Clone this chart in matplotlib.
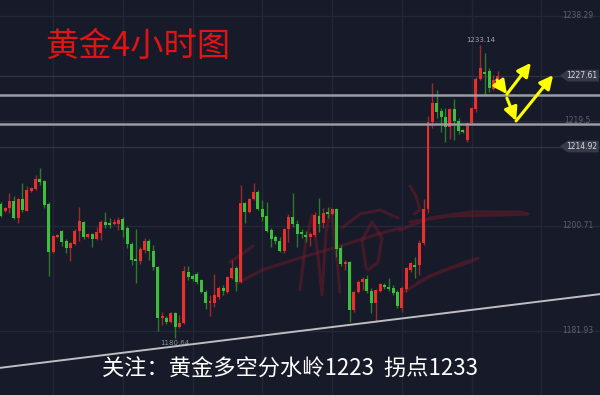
#!/usr/bin/env python
# -*- coding: utf-8 -*-
"""
Gold 4h candlestick chart (dark theme), red = up, green = down.
"""
import matplotlib

matplotlib.use("Agg")
import matplotlib.pyplot as plt
import matplotlib.transforms as mtransforms
from matplotlib.patches import Polygon

plt.rcParams["font.family"] = ["Noto Sans CJK SC", "DejaVu Sans"]

# --- Data --------------------------------------------------------------
opens = [
    1204.6, 1203.4, 1203.9, 1205.2, 1202.1, 1205.5, 1203.4, 1207.0, 1207.3, 1209.1,
    1208.8, 1204.6, 1196.1, 1198.7, 1199.8, 1198.0, 1196.8, 1197.5, 1199.8, 1201.4,
    1198.7, 1199.3, 1198.4, 1199.5, 1201.4, 1201.2, 1201.1, 1201.1, 1202.0, 1200.4,
    1197.5, 1194.8, 1194.4, 1196.4, 1198.0, 1196.2, 1193.4, 1184.2, 1184.2, 1183.5,
    1185.1, 1182.6, 1183.4, 1192.5, 1191.8, 1192.1, 1191.0, 1188.9, 1186.9, 1186.9,
    1188.0, 1189.6, 1188.9, 1191.4, 1193.2, 1190.7, 1204.8, 1203.2, 1205.5, 1206.8,
    1203.8, 1202.5, 1200.0, 1198.7, 1198.0, 1196.2, 1200.2, 1202.3, 1201.1, 1199.4,
    1199.1, 1198.7, 1199.1, 1202.5, 1201.2, 1203.2, 1202.9, 1203.8, 1196.8, 1193.9,
    1194.3, 1185.7, 1188.9, 1190.7, 1191.2, 1189.1, 1186.9, 1189.1, 1190.2, 1189.8,
    1189.6, 1188.9, 1186.0, 1189.4, 1192.8, 1193.7, 1193.7, 1197.7, 1203.8, 1219.3,
    1222.7, 1221.3, 1220.2, 1218.4, 1221.6, 1219.5, 1217.9, 1216.1, 1219.1, 1221.6,
    1227.0, 1228.3, 1228.4, 1225.2, 1226.5,
]
highs = [
    1205.0, 1204.1, 1206.6, 1206.1, 1205.7, 1208.4, 1207.9, 1207.7, 1209.8, 1211.1,
    1208.9, 1205.0, 1199.1, 1199.3, 1199.9, 1198.4, 1197.8, 1200.2, 1204.1, 1201.6,
    1199.5, 1199.5, 1200.5, 1201.8, 1203.2, 1202.1, 1202.0, 1202.3, 1202.3, 1200.7,
    1197.8, 1200.2, 1197.0, 1198.6, 1198.4, 1197.3, 1193.6, 1185.3, 1184.6, 1185.3,
    1185.3, 1184.8, 1193.6, 1193.6, 1192.1, 1192.5, 1191.2, 1189.3, 1188.4, 1192.1,
    1190.0, 1190.2, 1191.8, 1194.6, 1193.6, 1208.0, 1205.0, 1205.7, 1208.4, 1207.2,
    1205.4, 1205.0, 1200.4, 1199.1, 1198.7, 1200.4, 1202.9, 1206.6, 1201.8, 1200.2,
    1199.8, 1199.6, 1203.2, 1205.7, 1203.9, 1204.1, 1203.9, 1203.9, 1197.3, 1194.6,
    1194.4, 1189.1, 1191.0, 1191.6, 1191.9, 1189.6, 1189.4, 1190.5, 1190.5, 1191.4,
    1190.2, 1189.3, 1190.0, 1193.4, 1194.3, 1195.2, 1198.2, 1205.5, 1220.4, 1226.3,
    1225.0, 1221.8, 1221.8, 1221.8, 1223.4, 1220.0, 1218.1, 1219.3, 1222.0, 1227.4,
    1233.14, 1231.7, 1229.0, 1227.7, 1228.4,
]
lows = [
    1202.3, 1203.2, 1203.0, 1202.0, 1201.2, 1203.2, 1203.3, 1206.8, 1207.1, 1208.0,
    1203.9, 1191.8, 1195.9, 1198.6, 1197.1, 1195.9, 1194.4, 1197.3, 1198.0, 1198.4,
    1198.6, 1197.0, 1198.2, 1198.2, 1200.4, 1200.4, 1200.9, 1200.0, 1198.7, 1196.8,
    1193.7, 1190.5, 1193.9, 1195.9, 1194.6, 1192.8, 1181.9, 1183.0, 1183.2, 1183.4,
    1180.64, 1182.5, 1183.2, 1191.0, 1190.9, 1190.3, 1188.7, 1185.9, 1184.6, 1186.2,
    1187.6, 1188.4, 1188.7, 1191.2, 1189.1, 1190.5, 1201.2, 1203.0, 1205.4, 1203.6,
    1201.6, 1199.6, 1197.0, 1197.5, 1196.0, 1195.9, 1197.8, 1200.5, 1197.0, 1198.6,
    1197.8, 1197.1, 1198.7, 1199.6, 1200.4, 1202.1, 1202.7, 1195.2, 1193.6, 1192.8,
    1183.5, 1185.3, 1188.7, 1189.3, 1188.7, 1185.1, 1183.5, 1188.9, 1189.4, 1189.1,
    1188.4, 1186.0, 1185.3, 1188.9, 1192.5, 1191.4, 1191.9, 1197.3, 1203.0, 1218.2,
    1220.0, 1217.5, 1215.7, 1216.3, 1216.1, 1217.2, 1217.4, 1215.7, 1218.9, 1221.1,
    1226.8, 1224.2, 1224.7, 1225.0, 1226.3,
]
closes = [
    1202.5, 1203.9, 1205.2, 1202.1, 1205.5, 1203.6, 1207.2, 1207.5, 1209.1, 1208.6,
    1204.5, 1196.1, 1198.9, 1199.1, 1197.8, 1196.8, 1197.7, 1199.8, 1201.6, 1198.7,
    1199.3, 1198.4, 1199.6, 1201.4, 1200.9, 1200.9, 1201.4, 1201.8, 1200.0, 1197.5,
    1194.6, 1194.4, 1196.6, 1198.0, 1196.2, 1193.4, 1184.2, 1184.4, 1183.5, 1185.1,
    1182.6, 1183.4, 1192.7, 1191.6, 1191.2, 1190.7, 1188.9, 1186.9, 1187.1, 1188.4,
    1189.6, 1189.1, 1191.6, 1193.2, 1190.7, 1204.8, 1203.2, 1205.5, 1206.8, 1203.8,
    1202.3, 1199.8, 1198.4, 1198.0, 1196.2, 1200.2, 1202.3, 1201.1, 1199.3, 1199.3,
    1198.7, 1199.3, 1202.7, 1201.1, 1203.0, 1202.9, 1203.8, 1196.6, 1193.9, 1194.3,
    1185.7, 1188.9, 1190.7, 1191.2, 1189.1, 1186.9, 1189.3, 1190.3, 1189.8, 1189.4,
    1188.7, 1186.4, 1189.6, 1193.2, 1194.1, 1193.4, 1197.7, 1203.8, 1219.3, 1222.7,
    1221.1, 1220.2, 1218.4, 1221.6, 1219.5, 1217.7, 1217.5, 1219.1, 1221.8, 1227.0,
    1229.0, 1227.9, 1225.4, 1226.8, 1227.61,
]

axis_labels = [1238.29, 1219.5, 1200.71, 1181.93]  # price scale ticks
tag_prices = [1227.61, 1214.92]  # highlighted price tags
key_levels = [1224.15, 1218.96]  # white support / resistance lines
trend_prices = [1175.3, 1188.5]  # rising trendline at left / right edge
vgrid = [12, 28, 44, 60, 76, 92, 108, 124]  # vertical grid (candle index)
hi_idx, lo_idx = 110, 40

# yellow zig-zag arrows: (x index, price)
arrow_a = [(113.8, 1226.8), (116.1, 1224.3), (121.6, 1229.9)]
arrow_b = [(116.1, 1223.6), (118.2, 1219.5), (126.7, 1227.7)]

BG = "#171a28"
UP, DOWN = "#e8302e", "#3cbf3a"
UP_WICK, DOWN_WICK = "#9a2a2c", "#2c7a2c"

fig = plt.figure(figsize=(6, 3.95), dpi=100, facecolor=BG)
ax = fig.add_axes([0, 0, 1, 1], facecolor=BG)
ax.set_xlim(-0.16, 137.45)
ax.set_ylim(1170.44, 1241.15)
ax.axis("off")

# grid
for p in axis_labels:
    ax.axhline(p, color="#242838", lw=1, zorder=0)
for v in vgrid:
    ax.axvline(v, color="#222636", lw=1, zorder=0)

# signature watermark (pixel coords, top-left origin)
pix = mtransforms.Affine2D().scale(1 / 600, -1 / 395).translate(0, 1) + ax.transAxes
strokes = [
    [(230, 262), (242, 254), (253, 246)],
    [(236, 284), (262, 270), (300, 258), (340, 246), (372, 236), (400, 228)],
    [(300, 290), (306, 240), (312, 215), (318, 255), (322, 295), (326, 232),
     (331, 208), (336, 250), (340, 292)],
    [(342, 228), (360, 214), (380, 210), (398, 218)],
    [(366, 268), (362, 240), (372, 222), (382, 238), (378, 262), (368, 270)],
    [(410, 186), (416, 196), (420, 210), (414, 214)],
    [(400, 230), (430, 218), (470, 212), (520, 212), (528, 214), (500, 215),
     (450, 216), (410, 222)],
    [(404, 292), (430, 276), (460, 264), (478, 258), (470, 262), (440, 272),
     (418, 282)],
]
for s in strokes:
    xs, ys = zip(*s)
    ax.plot(xs, ys, color="#7c1b2a", lw=2.2, alpha=0.45, transform=pix,
            solid_capstyle="round", solid_joinstyle="round", zorder=1)

# horizontal price lines
for p in tag_prices:
    ax.axhline(p, color="#2e3242", lw=1, zorder=1)
for p in key_levels:
    ax.axhline(p, color="#9a9aa2", lw=1.8, zorder=4)

# trendline
ax.plot([-0.16, 137.45], trend_prices, color="#bdbdc2", lw=1.4, zorder=4)

# candles
for i, (o, h, l, c) in enumerate(zip(opens, highs, lows, closes)):
    up = c >= o
    ax.vlines(i, l, h, color=UP_WICK if up else DOWN_WICK, lw=1, zorder=2)
    ax.bar(i, max(abs(c - o), 0.35), bottom=min(o, c), width=0.68,
           color=UP if up else DOWN, lw=0, zorder=3)

# yellow arrows
for path in (arrow_a, arrow_b):
    for (x0, y0), (x1, y1) in zip(path[:-1], path[1:]):
        ax.annotate("", xy=(x1, y1), xytext=(x0, y0), zorder=6,
                    arrowprops=dict(arrowstyle="-|>,head_length=0.8,head_width=0.4",
                                    color="#ffff00", lw=2.2, shrinkA=0, shrinkB=0))

# right price scale
blend = mtransforms.blended_transform_factory(ax.transAxes, ax.transData)
for p in axis_labels:
    ax.text(0.963, p, f"{p:g}", transform=blend, ha="center", va="center",
            fontsize=5.5, color="#5c6173", family="DejaVu Sans", zorder=5)
for p in tag_prices:
    pts = [(0.933, p), (0.946, p + 1.05), (0.998, p + 1.05),
           (0.998, p - 1.05), (0.946, p - 1.05)]
    ax.add_patch(Polygon(pts, closed=True, transform=blend, fc="#363a48",
                         ec="none", zorder=5))
    ax.text(0.970, p, f"{p:.2f}", transform=blend, ha="center", va="center",
            fontsize=5.5, color="#d8d8dc", family="DejaVu Sans", zorder=6)

# high / low marks
ax.text(hi_idx, highs[hi_idx] + 0.4, f"{highs[hi_idx]:.2f}", ha="center",
        va="bottom", fontsize=5, color="#a0a4b0", family="DejaVu Sans")
ax.text(lo_idx, lows[lo_idx] - 0.4, f"{lows[lo_idx]:.2f}", ha="center",
        va="top", fontsize=5, color="#8a8e9a", family="DejaVu Sans")

# titles
fig.text(45 / 600, 1 - 46 / 395, "黄金4小时图", color="#e01414", fontsize=24,
         ha="left", va="center")
fig.text(290 / 600, 1 - 369 / 395, "关注：黄金多空分水岭1223  拐点1233",
         color="white", fontsize=16, ha="center", va="center")

fig.savefig("out.png", dpi=100, facecolor=BG)
